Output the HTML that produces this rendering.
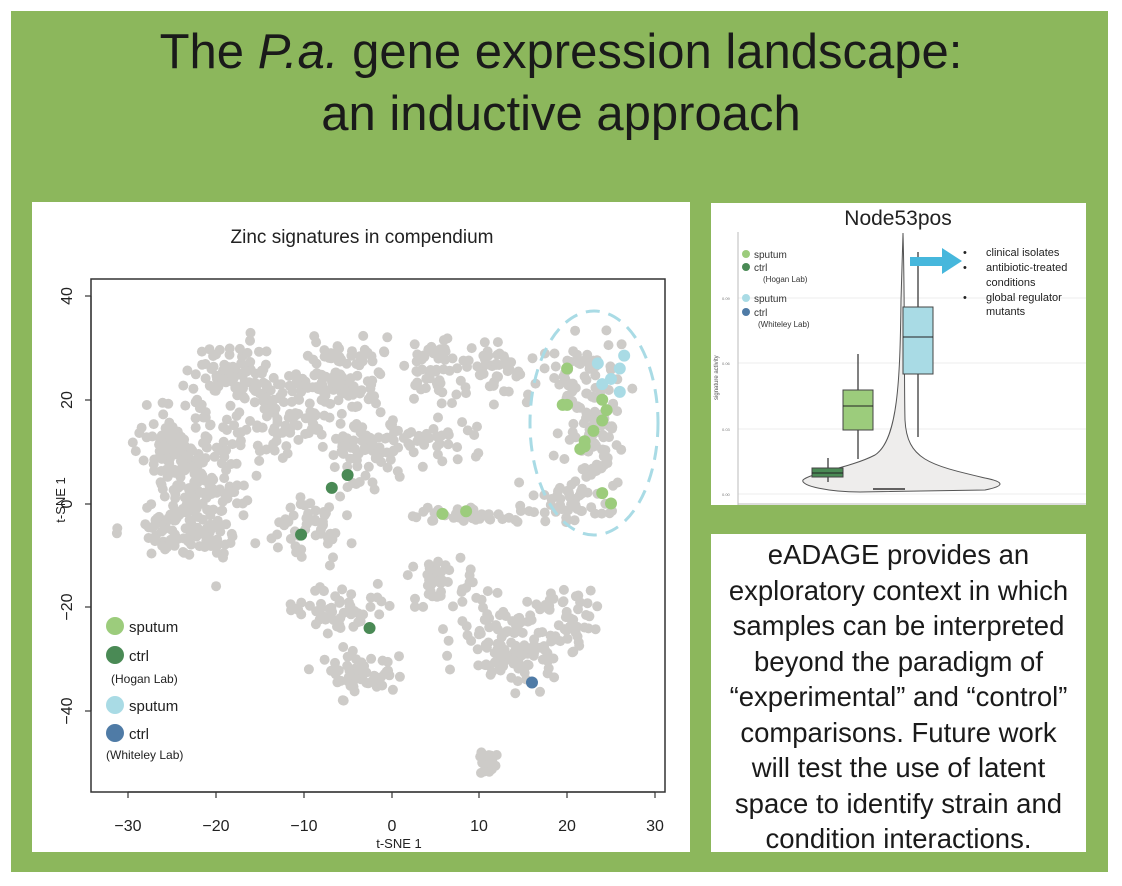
<!DOCTYPE html>
<html><head><meta charset="utf-8">
<style>
html,body{margin:0;padding:0;background:#fff;}
body{width:1122px;height:886px;position:relative;overflow:hidden;font-family:"Liberation Sans",sans-serif;}
#bg{position:absolute;left:11px;top:11px;width:1097px;height:861px;background:#8cb75c;}
.t{position:absolute;left:0;width:1122px;text-align:center;font-size:49px;color:#1a1a1a;line-height:60px;}
.panel{position:absolute;background:#fff;}
#txt{position:absolute;left:711px;top:534px;width:375px;height:318px;background:#fff;font-size:27.5px;line-height:35.5px;text-align:center;color:#1a1a1a;padding-top:3px;box-sizing:border-box;white-space:nowrap;}
</style></head><body>
<div id="bg"></div>
<div class="t" style="top:22px">The <i>P.a.</i> gene expression landscape:</div>
<div class="t" style="top:84px">an inductive approach</div>
<div class="panel" style="left:32px;top:202px;width:658px;height:650px;"></div>
<div class="panel" style="left:711px;top:203px;width:375px;height:302px;"></div>
<div id="txt">eADAGE provides an<br>exploratory context in which<br>samples can be interpreted<br>beyond the paradigm of<br>“experimental” and “control”<br>comparisons. Future work<br>will test the use of latent<br>space to identify strain and<br>condition interactions.</div>
<svg width="1122" height="886" style="position:absolute;left:0;top:0" xmlns="http://www.w3.org/2000/svg" font-family="Liberation Sans, sans-serif">
<text x="362" y="243" font-size="19" text-anchor="middle" fill="#222">Zinc signatures in compendium</text>
<rect x="91" y="279" width="574" height="513" fill="none" stroke="#333" stroke-width="1.5"/>
<g id="dots" fill="#cdcbc8"></g>
<g id="col"></g>
<ellipse cx="594" cy="423" rx="64" ry="112" fill="none" stroke="#a9dbe5" stroke-width="3" stroke-dasharray="14,9"/>
<g stroke="#333" stroke-width="1.2">
<line x1="128" y1="792" x2="655" y2="792"/>
<line x1="128" y1="792" x2="128" y2="798"/><line x1="216" y1="792" x2="216" y2="798"/><line x1="304" y1="792" x2="304" y2="798"/><line x1="392" y1="792" x2="392" y2="798"/><line x1="479" y1="792" x2="479" y2="798"/><line x1="567" y1="792" x2="567" y2="798"/><line x1="655" y1="792" x2="655" y2="798"/>
<line x1="91" y1="296" x2="91" y2="711"/>
<line x1="85" y1="296" x2="91" y2="296"/><line x1="85" y1="400" x2="91" y2="400"/><line x1="85" y1="504" x2="91" y2="504"/><line x1="85" y1="607" x2="91" y2="607"/><line x1="85" y1="711" x2="91" y2="711"/>
</g>
<g font-size="16" fill="#222" text-anchor="middle">
<text x="128" y="831">−30</text><text x="216" y="831">−20</text><text x="304" y="831">−10</text><text x="392" y="831">0</text><text x="479" y="831">10</text><text x="567" y="831">20</text><text x="655" y="831">30</text>
<text x="399" y="848" font-size="13">t-SNE 1</text>
<text transform="translate(72,296) rotate(-90)">40</text>
<text transform="translate(72,400) rotate(-90)">20</text>
<text transform="translate(72,504) rotate(-90)">0</text>
<text transform="translate(72,607) rotate(-90)">−20</text>
<text transform="translate(72,711) rotate(-90)">−40</text>
<text transform="translate(65,500) rotate(-90)" font-size="13">t-SNE 1</text>
</g>
<g font-size="15" fill="#222">
<circle cx="115" cy="626" r="9" fill="#9ccc7c"/><text x="129" y="632">sputum</text>
<circle cx="115" cy="655" r="9" fill="#4a8a55"/><text x="129" y="661">ctrl</text>
<text x="111" y="683" font-size="12">(Hogan Lab)</text>
<circle cx="115" cy="705" r="9" fill="#a9dbe5"/><text x="129" y="711">sputum</text>
<circle cx="115" cy="733" r="9" fill="#4f7ba6"/><text x="129" y="739">ctrl</text>
<text x="106" y="759" font-size="12">(Whiteley Lab)</text>
</g>
<text x="898" y="225" font-size="21" text-anchor="middle" fill="#222">Node53pos</text>
<g stroke="#eee" stroke-width="1"><line x1="738" y1="298" x2="1086" y2="298"/><line x1="738" y1="363" x2="1086" y2="363"/><line x1="738" y1="429" x2="1086" y2="429"/><line x1="738" y1="494" x2="1086" y2="494"/></g>
<line x1="738" y1="232" x2="738" y2="505" stroke="#bbb"/>
<line x1="738" y1="504" x2="1086" y2="504" stroke="#bbb"/>
<g font-size="4" fill="#777"><text x="722" y="300">0.09</text><text x="722" y="365">0.06</text><text x="722" y="431">0.03</text><text x="722" y="496">0.00</text></g>
<text transform="translate(718,400) rotate(-90)" font-size="6" fill="#555">signature activity</text>
<path d="M903,233 C905,300 904,380 905,420 C907,460 930,465 985,478 C1005,482 1005,486 985,490 L860,492 C830,492 800,486 803,480 C810,473 850,468 875,455 C898,440 900,380 901,300 Z" fill="#eeedec" stroke="#555" stroke-width="1"/>
<line x1="873" y1="489" x2="905" y2="489" stroke="#333" stroke-width="1.5"/>
<line x1="828" y1="458" x2="828" y2="482" stroke="#555" stroke-width="1.5"/>
<rect x="812" y="468" width="31" height="9" fill="#4a8a55" stroke="#444"/>
<line x1="812" y1="473" x2="843" y2="473" stroke="#222"/>
<line x1="858" y1="354" x2="858" y2="459" stroke="#555" stroke-width="1.5"/>
<rect x="843" y="390" width="30" height="40" fill="#9ccc7c" stroke="#444"/>
<line x1="843" y1="406" x2="873" y2="406" stroke="#222"/>
<line x1="918" y1="252" x2="918" y2="437" stroke="#555" stroke-width="1.5"/>
<rect x="903" y="307" width="30" height="67" fill="#a9dbe5" stroke="#444"/>
<line x1="903" y1="337" x2="933" y2="337" stroke="#222"/>
<polygon points="910,257 942,257 942,248 962,261 942,274 942,266 910,266" fill="#46b7dc"/>
<g font-size="11" fill="#222">
<text x="963" y="256">•</text><text x="986" y="256">clinical isolates</text>
<text x="963" y="271">•</text><text x="986" y="271">antibiotic-treated</text>
<text x="986" y="286">conditions</text>
<text x="963" y="301">•</text><text x="986" y="301">global regulator</text>
<text x="986" y="315">mutants</text>
</g>
<g font-size="10" fill="#333">
<circle cx="746" cy="254" r="4" fill="#9ccc7c"/><text x="754" y="258">sputum</text>
<circle cx="746" cy="267" r="4" fill="#4a8a55"/><text x="754" y="271">ctrl</text>
<text x="763" y="282" font-size="8">(Hogan Lab)</text>
<circle cx="746" cy="298" r="4" fill="#a9dbe5"/><text x="754" y="302">sputum</text>
<circle cx="746" cy="312" r="4" fill="#4f7ba6"/><text x="754" y="316">ctrl</text>
<text x="758" y="327" font-size="8">(Whiteley Lab)</text>
</g>
</svg>
<script>
(function(){
var s=12345;function r(){s=(s*16807)%2147483647;return s/2147483647;}
function g(){return (r()+r()+r()-1.5)/1.5;}
function px(x){return 391.5+x*8.78;} function py(y){return 503.5-y*5.19;}
var blobs=[[-22,5,5,14,200],[-26,12,3,6,50],[-18,25,4,6,70],[-12,18,5,8,100],[-6,25,5,7,90],[-3,10,4,6,70],[-10,-5,5,5,50],[5,27,3,7,50],[5,12,4,4,35],[13,25,5,5,50],[22,25,4,6,50],[23,12,3,8,70],[20,0,4,4,45],[8,-2,6,1.5,35],[-6,-20,5,4,55],[-3,-33,5,4,55],[5,-15,4,5,45],[14,-27,6,7,130],[20,-22,3,5,35],[11,-50,1,2,25],[-24,-5,5,4,55]];
var out="";
blobs.forEach(function(b){for(var i=0;i<b[4];i++){var x=b[0]+g()*b[2]*1.6,y=b[1]+g()*b[3]*1.6;if(x<-32||x>29||y<-52||y>39)continue;out+='<circle cx="'+px(x).toFixed(1)+'" cy="'+py(y).toFixed(1)+'" r="5"/>';}});
document.getElementById('dots').innerHTML=out;
var c=[["#9ccc7c",[[20,26],[19.5,19],[20,19],[24,20],[24.5,18],[24,16],[23,14],[22,12],[21.5,10.5],[22,11],[24,2],[25,0],[5.8,-2],[8.5,-1.5]]],["#a9dbe5",[[23.5,27],[26.5,28.5],[26,26],[25,24],[24,23],[26,21.5]]],["#4a8a55",[[-5,5.5],[-6.8,3],[-10.3,-6],[-2.5,-24]]],["#4f7ba6",[[16,-34.5]]]];
var o2="";c.forEach(function(k){k[1].forEach(function(p){o2+='<circle cx="'+px(p[0])+'" cy="'+py(p[1])+'" r="6" fill="'+k[0]+'"/>';});});
document.getElementById('col').innerHTML=o2;
})();
</script>
</body></html>
